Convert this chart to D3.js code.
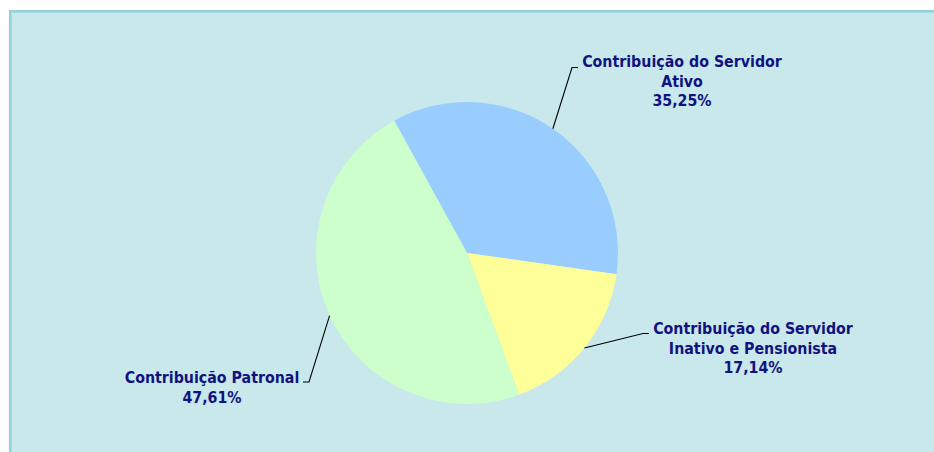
<!DOCTYPE html>
<html>
<head>
<meta charset="utf-8">
<script src="https://cdn.jsdelivr.net/npm/d3@7"></script>
<style>
  html, body { margin: 0; padding: 0; background: #ffffff; }
  svg { display: block; }
  .lbl { font-family: "DejaVu Sans Condensed", "DejaVu Sans", sans-serif; font-weight: bold; font-size: 15.8px; fill: #12127f; }
</style>
</head>
<body>
<svg id="chart" width="934" height="452"></svg>
<script>
// Revenue composition (percent share)
const categories = [
  "Contribuição do Servidor Ativo",
  "Contribuição do Servidor Inativo e Pensionista",
  "Contribuição Patronal"
];
const shares = [35.25, 17.14, 47.61];
const shareLabels = ["35,25%", "17,14%", "47,61%"];
const labelLines = [
  ["Contribuição do Servidor", "Ativo"],
  ["Contribuição do Servidor", "Inativo e Pensionista"],
  ["Contribuição Patronal"]
];
const colors = ["#99ccff", "#ffff99", "#ccffcc"];

const W = 934, H = 452;
const svg = d3.select("#chart");

// panel background with double-tone frame
svg.append("rect").attr("x", 9).attr("y", 10).attr("width", W).attr("height", H)
  .attr("fill", "#c8e8eb");
svg.append("path").attr("d", `M10,${H} V11 H${W}`).attr("fill", "none")
  .attr("stroke", "#92d2da").attr("stroke-width", 2);
svg.append("path").attr("d", `M11.5,${H} V12.5 H${W}`).attr("fill", "none")
  .attr("stroke", "#a9dde3").attr("stroke-width", 1);

const cx = 467, cy = 253, r = 151;
const startDeg = -28.8;
const pie = d3.pie().sort(null).value(d => d)
  .startAngle(startDeg * Math.PI / 180)
  .endAngle((startDeg + 360) * Math.PI / 180);
const arcs = pie(shares);
const arc = d3.arc().innerRadius(0).outerRadius(r);

const g = svg.append("g").attr("transform", `translate(${cx},${cy})`);
g.selectAll("path.slice").data(arcs).enter().append("path")
  .attr("class", "slice")
  .attr("d", arc)
  .attr("fill", (d, i) => colors[i]);

// label anchors (text centre x, first baseline y) and leader elbow
const labelPos = [
  { x: 682, y: 67, elbow: [572, 67.5], end: [578, 67.5] },
  { x: 753, y: 334, elbow: [643, 333.5], end: [649, 333.5] },
  { x: 212, y: 383, elbow: [309, 382], end: [303, 382] }
];
const lineH = 19.5;

arcs.forEach((a, i) => {
  const mid = (a.startAngle + a.endAngle) / 2;
  const p0 = [cx + Math.sin(mid) * r, cy - Math.cos(mid) * r];
  const lp = labelPos[i];
  svg.append("polyline")
    .attr("points", [p0, lp.elbow, lp.end].map(p => p.join(",")).join(" "))
    .attr("fill", "none").attr("stroke", "#000").attr("stroke-width", 1.1);
  const t = svg.append("text").attr("class", "lbl").attr("text-anchor", "middle");
  const lines = labelLines[i].concat([shareLabels[i]]);
  lines.forEach((s, k) => {
    t.append("tspan").attr("x", lp.x).attr("y", lp.y + k * lineH).text(s);
  });
});
</script>
</body>
</html>
